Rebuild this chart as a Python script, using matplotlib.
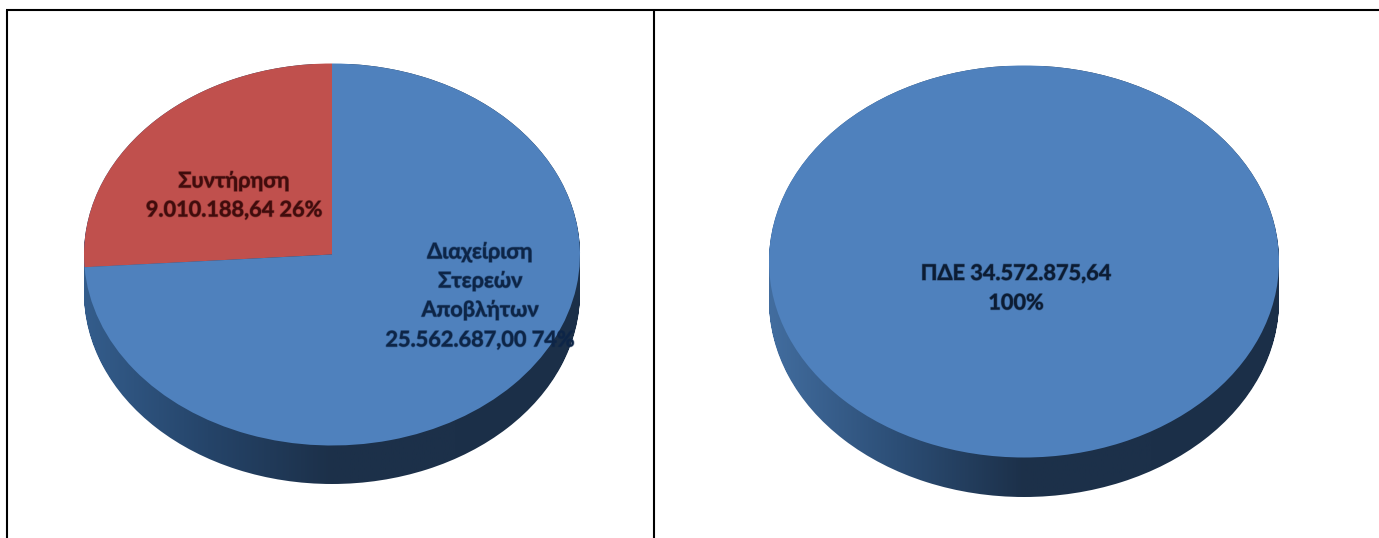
import numpy as np
import matplotlib
matplotlib.use("Agg")
import matplotlib.pyplot as plt
import matplotlib.patheffects as pe
from matplotlib.colors import LinearSegmentedColormap
from matplotlib.lines import Line2D
from matplotlib.path import Path
from matplotlib.patches import PathPatch

W, H = 1379, 538

left_categories = ["Συντήρηση", "Διαχείριση Στερεών Αποβλήτων"]
left_values = [9010188.64, 25562687.00]
left_colors = ["#c0504d", "#4f81bd"]
right_categories = ["ΠΔΕ"]
right_values = [34572875.64]
right_colors = ["#4f81bd"]

plt.rcParams['font.family'] = ['Lato', 'DejaVu Sans']
fig = plt.figure(figsize=(W / 100, H / 100), dpi=100, facecolor="white")
left_side = LinearSegmentedColormap.from_list("ls", ["#345d8c", "#254469", "#1c3049", "#1c3049", "#1b2f48"])
right_side = LinearSegmentedColormap.from_list("rs", ["#426d9f", "#2c4e76", "#1c3049", "#1c3049", "#1b2f48"])


def draw_pie(values, colors, cmap, x0, x1, y0, y1, depth):
    """x0..x1 and y0..y1: top face in pixels, y from the top; depth: rim height in pixels."""
    ax = fig.add_axes([x0 / W, 1 - (y1 + depth) / H, (x1 - x0) / W, (y1 + depth - y0) / H])
    ry = (y1 - y0) / 2
    d = depth / ry
    ax.axis("off")
    # the rim: copies of the pie, stepped down, joined into one clip shape
    paths = []
    for off in np.linspace(0, d, 24):
        w, _ = ax.pie([1], radius=1, center=(0, -off), colors=["#1c3049"], wedgeprops=dict(linewidth=0))
        paths.append(w[0].get_path().transformed(w[0].get_patch_transform()))
        w[0].remove()
    clip = PathPatch(Path.make_compound_path(*paths), transform=ax.transData, fc="none", ec="none")
    ax.add_patch(clip)
    im = ax.imshow(np.linspace(0, 1, 256)[None, :], cmap=cmap, extent=(-1, 1, -1 - d, 1), aspect="auto", zorder=1)
    im.set_clip_path(clip)
    ax.pie(values, colors=colors, startangle=90, radius=1, wedgeprops=dict(linewidth=0, zorder=2))
    ax.set_aspect("auto")
    ax.set_xlim(-1, 1)
    ax.set_ylim(-1 - d, 1)
    return ax


draw_pie(left_values, left_colors, left_side, 84, 580, 63.5, 445.5, 38.5)
draw_pie(right_values, right_colors, right_side, 769, 1279, 65.5, 457.5, 39.5)


def label(x, y, text, color):
    t = fig.text(x / W, 1 - y / H, text, ha="center", va="center", fontsize=15.6, fontweight="bold", color=color)
    t.set_path_effects([pe.withStroke(linewidth=1.0, foreground=color, alpha=0.4)])


red_text = "#400c0c"
blue_text = "#0d2547"
label(234, 181, "Συντήρηση", red_text)
label(234, 210, "9.010.188,64 26%", red_text)
label(480, 252, "Διαχείριση", blue_text)
label(480, 281, "Στερεών", blue_text)
label(480, 310, "Αποβλήτων", blue_text)
label(480, 340, "25.562.687,00 74%", blue_text)
label(1016, 273.5, "ΠΔΕ 34.572.875,64", "#0c1c33")
label(1016, 303, "100%", "#0c1c33")

# the surrounding table rules
for xs, ys in [((6, W), (10, 10)), ((7, 7), (10, H)), ((653.5, 653.5), (10, H))]:
    fig.add_artist(Line2D([x / W for x in xs], [1 - y / H for y in ys], color="black",
                          linewidth=1.5, solid_capstyle="butt"))

fig.savefig("out.png", dpi=100, facecolor="white")
